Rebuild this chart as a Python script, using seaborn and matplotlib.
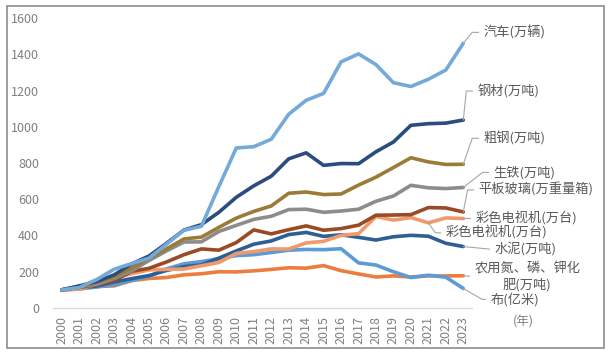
import matplotlib
matplotlib.use("Agg")
import matplotlib.pyplot as plt
import seaborn as sns
import pandas as pd
from matplotlib.patches import Rectangle

# index, 2000 = 100
years = list(range(2000, 2024))
car = [100, 113, 157, 214, 245, 275, 352, 429, 451, 670, 883, 890, 931, 1069, 1146, 1184, 1358, 1402, 1343, 1243, 1222, 1262, 1313, 1460]
steel = [100, 122, 146, 183, 243, 287, 357, 430, 460, 528, 611, 674, 727, 823, 856, 787, 797, 796, 862, 916, 1008, 1017, 1020, 1037]
crude = [100, 118, 142, 173, 220, 275, 326, 381, 391, 445, 496, 533, 563, 633, 640, 626, 629, 678, 722, 775, 829, 806, 792, 793]
pig = [100, 119, 130, 163, 205, 262, 315, 364, 365, 422, 456, 489, 506, 543, 545, 528, 535, 545, 589, 618, 677, 663, 659, 665]
glass = [100, 114, 128, 151, 202, 219, 254, 294, 326, 319, 361, 431, 409, 432, 453, 429, 438, 457, 512, 513, 515, 554, 552, 530]
tv = [100, 104, 131, 166, 189, 210, 213, 215, 233, 251, 301, 311, 326, 325, 359, 368, 401, 410, 505, 485, 499, 470, 497, 494]
cement = [100, 111, 121, 144, 162, 179, 207, 228, 238, 275, 315, 352, 370, 405, 417, 395, 404, 390, 375, 393, 401, 396, 357, 339]
cloth = [100, 105, 116, 128, 152, 175, 216, 244, 256, 272, 289, 294, 306, 319, 323, 322, 327, 249, 237, 200, 168, 181, 170, 108]
fert = [100, 106, 119, 122, 151, 163, 168, 183, 189, 200, 199, 205, 213, 222, 220, 234, 206, 188, 171, 177, 171, 177, 177, 178]

series = {
    "car": car, "steel": steel, "crude": crude, "pig": pig, "glass": glass,
    "tv": tv, "cement": cement, "fert": fert, "cloth": cloth,
}
colors = {
    "car": "#74A9DA", "steel": "#2B4C7E", "crude": "#9C7B36", "pig": "#8C8C8C",
    "glass": "#9A4A24", "tv": "#F09A6C", "cement": "#2E5F94", "fert": "#EB7E3E",
    "cloth": "#5C9BD6",
}
draw_order = ["fert", "cloth", "cement", "tv", "glass", "pig", "crude", "steel", "car"]

# callouts: text, series, year, text offset (px), leader angle at the point
callouts = [
    ("汽车(万辆)", "car", 2023, 20, 11, 51),
    ("钢材(万吨)", "steel", 2023, 14, 29, 84),
    ("粗钢(万吨)", "crude", 2023, 20, 26, 71),
    ("生铁(万吨)", "pig", 2023, 30, 15, 38),
    ("平板玻璃(万重量箱)", "glass", 2023, 15, 22, 79),
    ("彩色电视机(万台)", "tv", 2023, 12, 0, None),
    ("彩色电视机(万台)", "tv", 2021, 17, -10, -55),
    ("水泥(万吨)", "cement", 2023, 31, -3, None),
    ("农用氮、磷、钾化\n肥(万吨)", "fert", 2023, 64, -1, None),
    ("布(亿米)", "cloth", 2023, 27, -11, -30),
]

sns.set_style("white", {'axes.grid': False})
plt.rcParams['font.family'] = ['Noto Sans CJK SC', 'DejaVu Sans']

df = pd.DataFrame([(k, y, v) for k in draw_order for y, v in zip(years, series[k])],
                  columns=["series", "year", "value"])

fig = plt.figure(figsize=(6.12, 3.57), dpi=100)
ax = fig.add_axes([53 / 612, 1 - 308 / 357, 419 / 612, 290 / 357])

sns.lineplot(data=df, x="year", y="value", hue="series", hue_order=draw_order,
             palette=colors, linewidth=2.6, legend=False, ax=ax)

ax.set(xlim=(1999.5, 2023.5), ylim=(0, 1600), xlabel="", ylabel="")
ax.set_xticks(years)
ax.set_xticklabels([str(y) for y in years], rotation=90)
ax.set_yticks(range(0, 1601, 200))
ax.tick_params(axis="both", length=0, colors="#808080", labelsize=9)
ax.tick_params(axis="y", pad=10)
ax.tick_params(axis="x", pad=6)
for s in ["top", "right", "left"]:
    ax.spines[s].set_visible(False)
ax.spines["bottom"].set_color("#d9d9d9")
ax.spines["bottom"].set_linewidth(1)

for text, key, yr, dx, dy, angB in callouts:
    val = series[key][years.index(yr)]
    if angB is None:
        cs = "arc3"
    else:
        cs = f"angle,angleA=0,angleB={angB},rad=0"
    ha = "center" if "\n" in text else "left"
    ax.annotate(text, xy=(yr, val), xytext=(dx, dy), textcoords="offset pixels",
                ha=ha, va="center", multialignment="center", fontsize=9.5,
                color="#595959", annotation_clip=False, linespacing=1.3,
                arrowprops=dict(arrowstyle="-", color="#a6a6a6", lw=0.8,
                                connectionstyle=cs, relpos=(0, 0.5),
                                shrinkA=1, shrinkB=0))

fig.text(523 / 612, 1 - 322 / 357, "(年)", ha="center", va="center",
         color="#808080", fontsize=9)

fig.patches.append(Rectangle((7 / 612, 1 - 348 / 357), 597 / 612, 342 / 357,
                             transform=fig.transFigure, fill=False,
                             edgecolor="#8c8c8c", lw=1.2))

fig.savefig("out.png", dpi=100)
